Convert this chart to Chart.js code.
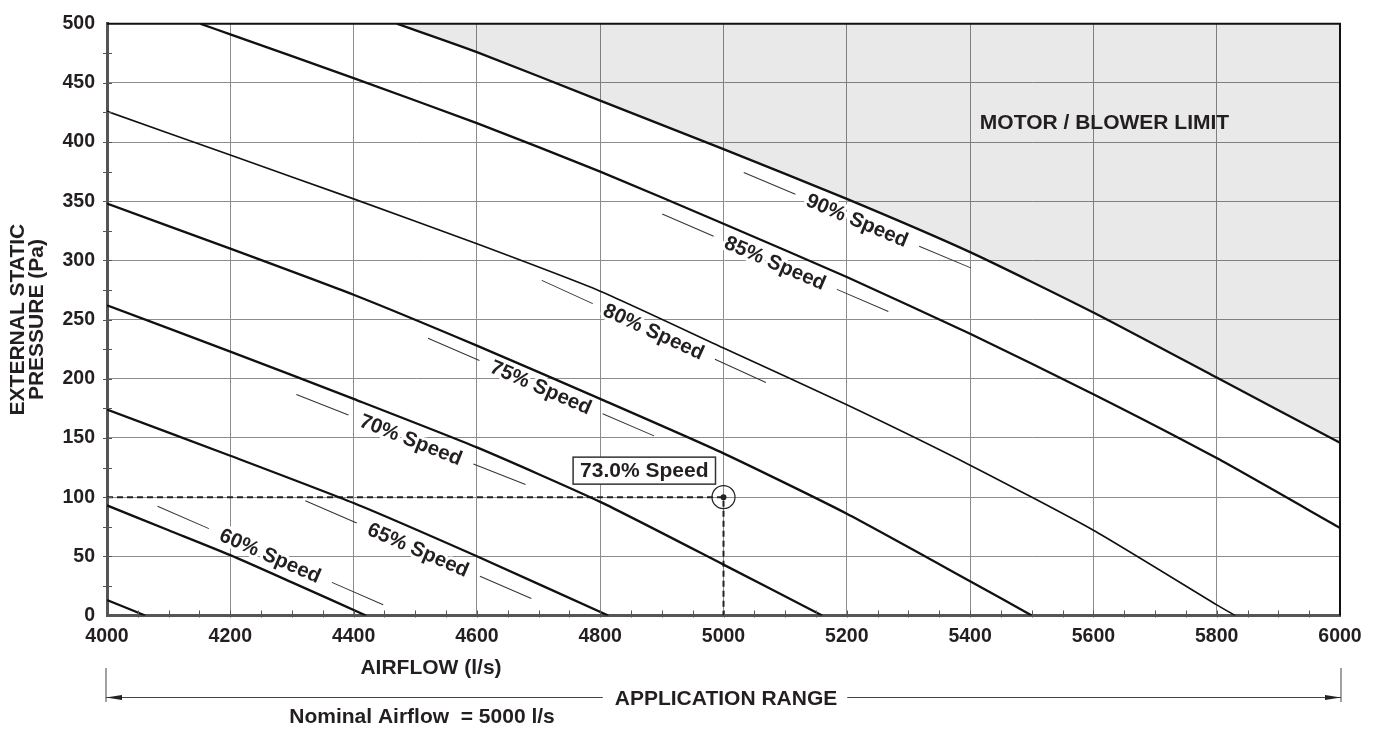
<!DOCTYPE html>
<html><head><meta charset="utf-8">
<script src="https://cdn.jsdelivr.net/npm/chart.js@4/dist/chart.umd.min.js"></script>
<style>html,body{margin:0;padding:0;background:#fff}canvas{display:block}</style>
</head><body>
<canvas id="c" width="1376" height="729"></canvas>
<script>
// ---- data ----
const xTickValues = [4000,4200,4400,4600,4800,5000,5200,5400,5600,5800,6000];
const yTickValues = [0,50,100,150,200,250,300,350,400,450,500];

const speed55Airflow  = [4000,4062];
const speed55Pressure = [13,0];
const speed60Airflow  = [4000,4100,4200,4300,4420];
const speed60Pressure = [93,72,51,28,0];
const speed65Airflow  = [4000,4200,4400,4600,4813];
const speed65Pressure = [174,135,95,50,0];
const speed70Airflow  = [4000,4200,4400,4600,4800,5000,5160];
const speed70Pressure = [262,223,183,142,96,43,0];
const speed75Airflow  = [4000,4200,4400,4600,4800,5000,5200,5400,5500];
const speed75Pressure = [348,310,271,228,183,137,86,29,0];
const speed80Airflow  = [4000,4200,4400,4600,4800,5000,5200,5400,5600,5800,5830];
const speed80Pressure = [426,389,352,314,274,226,178,127,72,9,0];
const speed85Airflow  = [4151,4200,4400,4600,4800,5000,5200,5400,5600,5800,6000];
const speed85Pressure = [500,491,454,416,375,331,286,238,187,133,74];
const speed90Airflow  = [4470,4600,4800,5000,5200,5400,5600,5800,6000];
const speed90Pressure = [500,476,435,394,352,307,256,201,146];

const curveLabelTexts = ['60% Speed','65% Speed','70% Speed','75% Speed','80% Speed','85% Speed','90% Speed'];

const opAirflow = 5000;
const opPressure = 100;
const opSpeedText = '73.0% Speed';

// ---- helpers / config ----
const FONT = '"Liberation Sans", Arial, Helvetica, sans-serif';
const INK = '#231f20';
function pts(xs, ys){ return xs.map((v,i)=>({x:v, y:ys[i]})); }
function interp(xs, ys, v){
  if (v <= xs[0]) return ys[0] + (ys[1]-ys[0])*(v-xs[0])/(xs[1]-xs[0]);
  for (let i=1;i<xs.length;i++){
    if (v <= xs[i]) return ys[i-1] + (ys[i]-ys[i-1])*(v-xs[i-1])/(xs[i]-xs[i-1]);
  }
  const n=xs.length; return ys[n-2] + (ys[n-1]-ys[n-2])*(v-xs[n-2])/(xs[n-1]-xs[n-2]);
}
// label placement (annotation options)
const labelPlacement = [
  {curve:[speed60Airflow,speed60Pressure], at:[4265,50.7]},
  {curve:[speed65Airflow,speed65Pressure], at:[4505,55.7]},
  {curve:[speed70Airflow,speed70Pressure], at:[4493,148.7]},
  {curve:[speed75Airflow,speed75Pressure], at:[4704,193]},
  {curve:[speed80Airflow,speed80Pressure], at:[4887,240]},
  {curve:[speed85Airflow,speed85Pressure], at:[5084,298]},
  {curve:[speed90Airflow,speed90Pressure], at:[5217,334]}
];

function curveDs(xs, ys, w, extra){
  return Object.assign({data: pts(xs,ys), borderColor:'#111', borderWidth:w, pointRadius:0,
    tension:0.2, fill:false}, extra||{});
}

const decor = {
  id:'decor',
  afterDatasetsDraw(chart){
    const {ctx, chartArea:a, scales:{x, y}} = chart;
    ctx.save();
    // frame top/right
    ctx.strokeStyle = '#111'; ctx.lineWidth = 2;
    ctx.beginPath(); ctx.moveTo(a.left, a.top); ctx.lineTo(a.right, a.top); ctx.lineTo(a.right, a.bottom); ctx.stroke();
    // minor ticks
    ctx.strokeStyle = '#555'; ctx.lineWidth = 1; ctx.beginPath();
    for (let v = x.min + 50; v < x.max; v += 50){
      const px = Math.round(x.getPixelForValue(v)) + 0.5;
      ctx.moveTo(px, a.bottom - 5); ctx.lineTo(px, a.bottom + 2);
    }
    for (let v = y.min + 25; v < y.max; v += 25){
      const py = Math.round(y.getPixelForValue(v)) + 0.5;
      ctx.moveTo(a.left - 4, py); ctx.lineTo(a.left + 5, py);
    }
    ctx.stroke();

    // curve labels
    ctx.font = 'bold 20.5px ' + FONT;
    ctx.textAlign = 'center'; ctx.textBaseline = 'middle';
    labelPlacement.forEach((lp, i) => {
      const [xs, ys] = lp.curve;
      const v0 = lp.at[0]-100, v1 = lp.at[0]+100;
      const dx = x.getPixelForValue(v1) - x.getPixelForValue(v0);
      const dy = y.getPixelForValue(interp(xs,ys,v1)) - y.getPixelForValue(interp(xs,ys,v0));
      const ang = Math.atan2(dy, dx);
      const cx = x.getPixelForValue(lp.at[0]), cy = y.getPixelForValue(lp.at[1]);
      const txt = curveLabelTexts[i];
      ctx.save();
      ctx.translate(cx, cy); ctx.rotate(ang);
      const w = ctx.measureText(txt).width;
      ctx.strokeStyle = '#fff'; ctx.lineWidth = 6; ctx.lineJoin = 'round';
      ctx.strokeText(txt, 0, 1);
      ctx.fillStyle = INK; ctx.fillText(txt, 0, 1);
      const g = 13, L = 56;
      ctx.strokeStyle = '#333'; ctx.lineWidth = 1;
      ctx.beginPath();
      ctx.moveTo(-(w/2+g+L), 0); ctx.lineTo(-(w/2+g), 0);
      ctx.moveTo(w/2+g, 0); ctx.lineTo(w/2+g+L, 0);
      ctx.stroke();
      ctx.restore();
    });

    // operating point box
    const opx = x.getPixelForValue(opAirflow), opy = y.getPixelForValue(opPressure);
    ctx.font = 'bold 21px ' + FONT;
    const bw = ctx.measureText(opSpeedText).width + 14, bh = 27;
    const bx = opx - 8 - bw, by = opy - 13 - bh;
    ctx.fillStyle = '#fff'; ctx.fillRect(bx, by, bw, bh);
    ctx.strokeStyle = '#333'; ctx.lineWidth = 1.5; ctx.strokeRect(bx, by, bw, bh);
    ctx.fillStyle = INK; ctx.textAlign = 'center'; ctx.textBaseline = 'middle';
    ctx.fillText(opSpeedText, bx + bw/2, by + bh/2 + 1);

    // motor limit text
    ctx.fillText('MOTOR / BLOWER LIMIT', 1104.5, 123);
    ctx.restore();
  },
  afterDraw(chart){
    const {ctx, chartArea:a, scales:{x}} = chart;
    ctx.save();
    ctx.fillStyle = INK; ctx.textAlign = 'center'; ctx.textBaseline = 'middle';
    ctx.font = 'bold 21px ' + FONT;
    // y title
    const cy = (a.top + a.bottom)/2;
    [['EXTERNAL STATIC', 17], ['PRESSURE (Pa)', 36.5]].forEach(([t, px]) => {
      ctx.save(); ctx.translate(px, cy); ctx.rotate(-Math.PI/2); ctx.fillText(t, 0, 1); ctx.restore();
    });
    // x title
    ctx.fillText('AIRFLOW (l/s)', 431, 668);
    // application range
    const L = x.getPixelForValue(x.min) - 1, R = x.getPixelForValue(x.max) + 1, ly = 697.5;
    const tx = 726;
    const tw = ctx.measureText('APPLICATION RANGE').width;
    ctx.fillText('APPLICATION RANGE', tx, 699);
    ctx.strokeStyle = '#444'; ctx.lineWidth = 1;
    ctx.beginPath();
    ctx.moveTo(L, 668); ctx.lineTo(L, 702);
    ctx.moveTo(R, 668); ctx.lineTo(R, 702);
    ctx.moveTo(L, ly); ctx.lineTo(tx - tw/2 - 12, ly);
    ctx.moveTo(tx + tw/2 + 10, ly); ctx.lineTo(R, ly);
    ctx.stroke();
    ctx.fillStyle = '#222';
    ctx.beginPath(); ctx.moveTo(L, ly); ctx.lineTo(L+16, ly-2.5); ctx.lineTo(L+16, ly+2.5); ctx.closePath(); ctx.fill();
    ctx.beginPath(); ctx.moveTo(R, ly); ctx.lineTo(R-16, ly-2.5); ctx.lineTo(R-16, ly+2.5); ctx.closePath(); ctx.fill();
    ctx.fillStyle = INK;
    ctx.fillText('Nominal Airflow  = ' + opAirflow + ' l/s', 422, 717);
    ctx.restore();
  }
};

new Chart(document.getElementById('c'), {
  type: 'line',
  data: {
    datasets: [
      curveDs(speed55Airflow, speed55Pressure, 2.3),
      curveDs(speed60Airflow, speed60Pressure, 2.3),
      curveDs(speed65Airflow, speed65Pressure, 2.3),
      curveDs(speed70Airflow, speed70Pressure, 2.3),
      curveDs(speed75Airflow, speed75Pressure, 2.3),
      curveDs(speed80Airflow, speed80Pressure, 1.6),
      curveDs(speed85Airflow, speed85Pressure, 2.3),
      curveDs(speed90Airflow, speed90Pressure, 2.3, {fill:'end', backgroundColor:'rgba(0,0,0,0.085)'}),
      {data:[{x:xTickValues[0], y:opPressure},{x:opAirflow, y:opPressure},{x:opAirflow, y:yTickValues[0]}],
       borderColor:'#222', borderWidth:2, borderDash:[6,4], pointRadius:0, tension:0, fill:false},
      {data:[{x:opAirflow, y:opPressure}], showLine:false, pointRadius:11.5, pointBorderWidth:1.2,
       pointBackgroundColor:'rgba(0,0,0,0)', pointBorderColor:'#222'},
      {data:[{x:opAirflow, y:opPressure}], showLine:false, pointRadius:3, pointBorderWidth:0,
       pointBackgroundColor:'#222'}
    ]
  },
  options: {
    responsive:false, animation:false, devicePixelRatio:1,
    layout:{padding:{top:18, right:36, left:0, bottom:0}},
    plugins:{legend:{display:false}, tooltip:{enabled:false}},
    scales:{
      x:{type:'linear', min:xTickValues[0], max:xTickValues[xTickValues.length-1],
        afterBuildTicks(s){ s.ticks = xTickValues.map(v=>({value:v})); },
        afterFit(s){ s.height = 113.5; },
        ticks:{color:INK, font:{family:FONT, size:19.5, weight:'bold'}, padding:9, maxRotation:0, autoSkip:false,
          callback:(v)=>String(v)},
        grid:{color:'#8c8c8c', lineWidth:1, drawTicks:false},
        border:{color:'#555', width:3}
      },
      y:{type:'linear', min:yTickValues[0], max:yTickValues[yTickValues.length-1],
        afterBuildTicks(s){ s.ticks = yTickValues.map(v=>({value:v})); },
        afterFit(s){ s.width = 107; },
        ticks:{color:INK, font:{family:FONT, size:19.5, weight:'bold'}, padding:12, autoSkip:false,
          callback:(v)=>String(v)},
        grid:{color:'#8c8c8c', lineWidth:1, drawTicks:false},
        border:{color:'#555', width:3}
      }
    }
  },
  plugins:[decor]
});
</script>
</body></html>
